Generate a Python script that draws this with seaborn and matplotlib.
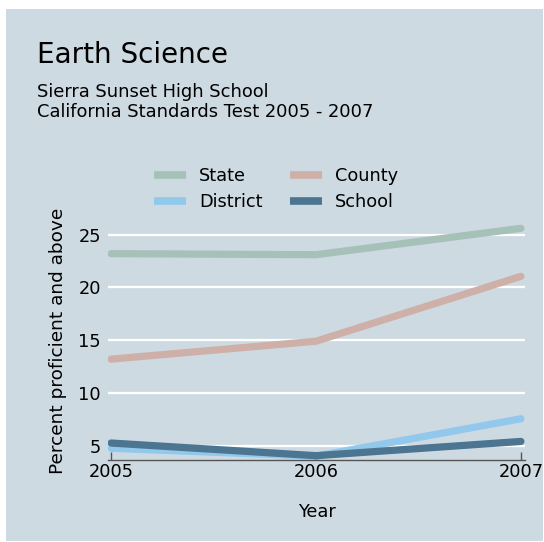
import matplotlib
matplotlib.use("Agg")
import matplotlib.pyplot as plt
import matplotlib.patches as mpatches
from matplotlib.lines import Line2D
import seaborn as sns
import pandas as pd

years = [2005, 2006, 2007]
state = [23.2, 23.1, 25.6]
county = [13.2, 14.9, 21.05]
district = [4.75, 4.0, 7.55]
school = [5.25, 4.05, 5.4]
series_names = ["State", "County", "District", "School"]
colors = {"State": "#a6c1b8", "County": "#cfb0a8", "District": "#92c8ec", "School": "#4b7590"}
yticks = [5, 10, 15, 20, 25]

rows = []
for name, vals in zip(series_names, [state, county, district, school]):
    for y, v in zip(years, vals):
        rows.append({"Year": y, "Value": v, "Series": name})
df = pd.DataFrame(rows)

sns.set_style("white")
plt.rcParams['font.family'] = ['DejaVu Sans']
plt.rcParams['text.color'] = 'black'
plt.rcParams['axes.labelcolor'] = 'black'
plt.rcParams['xtick.color'] = 'black'
plt.rcParams['ytick.color'] = 'black'

W, H = 544, 542
fig = plt.figure(figsize=(W / 100, H / 100), dpi=100, facecolor="white")
bg = "#cedae2"
fig.patches.append(mpatches.Rectangle((6 / W, 1 / H), 537 / W, 532 / H,
                                      transform=fig.transFigure, facecolor=bg,
                                      edgecolor="none", zorder=-10))

left, right, top, bottom = 108, 525, 222, 460
ax = fig.add_axes([left / W, 1 - bottom / H, (right - left) / W, (bottom - top) / H])
ax.set_facecolor(bg)

sns.lineplot(data=df, x="Year", y="Value", hue="Series", hue_order=series_names,
             palette=colors, linewidth=5.2, ax=ax, legend=False,
             solid_capstyle="round")

fs = 12.8
ax.set_xlim(2004.985, 2007.02)
ax.set_ylim(3.64, 26.2)
ax.set_xticks(years)
ax.set_xticklabels([str(y) for y in years], fontsize=fs)
ax.set_yticks(yticks)
ax.set_yticklabels([str(t) for t in yticks], fontsize=fs)
ax.grid(axis="y", color="white", linewidth=1.6)
ax.grid(axis="x", visible=False)
ax.set_axisbelow(True)
for s in ["top", "right", "left"]:
    ax.spines[s].set_visible(False)
ax.spines["bottom"].set_color("#555555")
ax.spines["bottom"].set_linewidth(1.0)
ax.tick_params(axis="x", bottom=True, direction="in", length=6, color="#555555",
               width=1, pad=2)
ax.tick_params(axis="y", left=False, length=0, pad=5)
ax.set_xlabel("Year", fontsize=fs, labelpad=16)
ax.set_ylabel("Percent proficient and above", fontsize=13.3, labelpad=8)

fig.text(37 / W, 1 - 63 / H, "Earth Science", fontsize=20, ha="left", va="baseline")
fig.text(37 / W, 1 - 97 / H, "Sierra Sunset High School", fontsize=12.9, ha="left", va="baseline")
fig.text(37 / W, 1 - 117 / H, "California Standards Test 2005 - 2007", fontsize=12.9,
         ha="left", va="baseline")

order = ["State", "District", "County", "School"]
handles = [Line2D([0], [0], color=colors[n], linewidth=5.5, solid_capstyle="butt")
           for n in order]
fig.legend(handles, order, ncol=2, loc="center", bbox_to_anchor=(276 / W, 1 - 189 / H),
           frameon=False, fontsize=fs, handlelength=1.8, columnspacing=1.5,
           handletextpad=0.75, labelspacing=0.45)

fig.savefig("out.png", dpi=100, facecolor="white")
